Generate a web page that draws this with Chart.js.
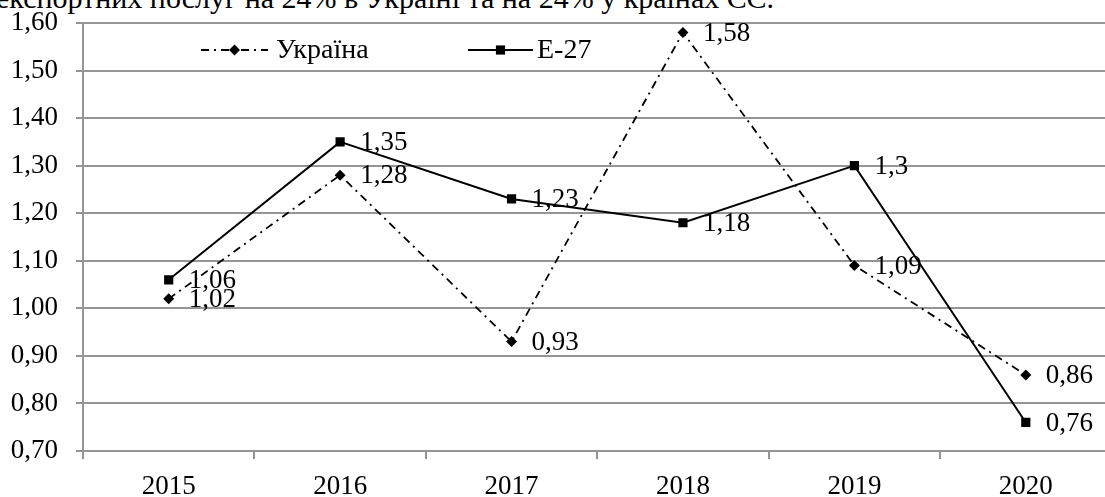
<!DOCTYPE html>
<html lang="uk">
<head>
<meta charset="utf-8">
<title>Україна та Е-27</title>
<script src="https://cdn.jsdelivr.net/npm/chart.js@4/dist/chart.umd.min.js"></script>
<style>
    html, body { margin: 0; padding: 0; background: #fff; overflow: hidden; }
    #wrap { position: relative; width: 1105px; height: 497px; overflow: hidden; }
    #topText {
        position: absolute; left: -4px; top: -17px;
        font: 30px "Liberation Serif", serif; line-height: 30px;
        white-space: nowrap; color: #000;
    }
    #chart { position: absolute; left: 0; top: 0; }
</style>
</head>
<body>
<div id="wrap">
    <div id="topText">експортних послуг на 24% в Україні та на 24% у країнах ЄС.</div>
    <canvas id="chart" width="1118" height="497"></canvas>
</div>
<script>
// Chart data
const years = ['2015', '2016', '2017', '2018', '2019', '2020'];
const ukraine = [1.02, 1.28, 0.93, 1.58, 1.09, 0.86];
const eu27 = [1.06, 1.35, 1.23, 1.18, 1.30, 0.76];
const ukraineLabels = ['1,02', '1,28', '0,93', '1,58', '1,09', '0,86'];
const eu27Labels = ['1,06', '1,35', '1,23', '1,18', '1,3', '0,76'];
const yTickLabels = ['0,70', '0,80', '0,90', '1,00', '1,10', '1,20', '1,30', '1,40', '1,50', '1,60'];

const FONT = '"Liberation Serif", serif';
const GRID = '#959595';

// value labels to the right of each point
const pointLabels = {
    id: 'pointLabels',
    afterDatasetsDraw(chart) {
        const ctx = chart.ctx;
        ctx.save();
        ctx.font = '27px ' + FONT;
        ctx.fillStyle = '#000';
        ctx.textAlign = 'left';
        ctx.textBaseline = 'middle';
        chart.data.datasets.forEach((ds, i) => {
            chart.getDatasetMeta(i).data.forEach((pt, j) => {
                ctx.fillText(ds.valueLabels[j], pt.x + 20, pt.y + 1);
            });
        });
        ctx.restore();
    }
};

// legend drawn inside the plot area, like the original
const innerLegend = {
    id: 'innerLegend',
    afterDraw(chart) {
        const ctx = chart.ctx;
        const slots = [
            { x0: 201, x1: 268, tx: 276 },
            { x0: 468, x1: 533, tx: 537 }
        ];
        const y = 50;
        ctx.save();
        chart.data.datasets.forEach((ds, i) => {
            const s = slots[i];
            ctx.strokeStyle = '#000';
            ctx.lineWidth = ds.borderWidth;
            ctx.setLineDash(ds.borderDash || []);
            ctx.beginPath();
            ctx.moveTo(s.x0, y);
            ctx.lineTo(s.x1, y);
            ctx.stroke();
            ctx.setLineDash([]);
            ctx.fillStyle = '#000';
            Chart.helpers.drawPoint(ctx, {
                pointStyle: ds.pointStyle,
                radius: ds.pointRadius,
                borderWidth: 0
            }, (s.x0 + s.x1) / 2, y);
            ctx.fillStyle = '#000';
            ctx.font = '28px ' + FONT;
            ctx.textAlign = 'left';
            ctx.textBaseline = 'middle';
            ctx.fillText(ds.label, s.tx, y + 1);
        });
        ctx.restore();
    }
};

new Chart(document.getElementById('chart'), {
    type: 'line',
    data: {
        labels: years,
        datasets: [
            {
                label: 'Україна',
                data: ukraine,
                valueLabels: ukraineLabels,
                borderColor: '#000',
                backgroundColor: '#000',
                borderWidth: 1.8,
                borderDash: [8, 5, 2, 5],
                pointStyle: 'rectRot',
                pointRadius: 5.5,
                pointBorderWidth: 0,
                tension: 0
            },
            {
                label: 'E-27',
                data: eu27,
                valueLabels: eu27Labels,
                borderColor: '#000',
                backgroundColor: '#000',
                borderWidth: 2,
                pointStyle: 'rect',
                pointRadius: 6.5,
                pointBorderWidth: 0,
                tension: 0
            }
        ]
    },
    options: {
        responsive: false,
        animation: false,
        layout: { padding: { top: 23, left: 0, right: 0, bottom: 0 } },
        plugins: {
            legend: { display: false },
            tooltip: { enabled: false }
        },
        scales: {
            x: {
                offset: true,
                afterFit: (scale) => {
                    scale.height = 46;
                    scale.paddingLeft = 0;
                    scale.paddingRight = 0;
                },
                grid: {
                    offset: true,
                    drawOnChartArea: false,
                    color: GRID,
                    lineWidth: 2,
                    tickLength: 8
                },
                border: { display: true, color: GRID, width: 2 },
                ticks: {
                    color: '#000',
                    padding: 12,
                    font: { family: FONT, size: 27 }
                }
            },
            y: {
                min: 0.7,
                max: 1.6,
                afterFit: (scale) => {
                    scale.width = 83;
                    scale.paddingTop = 0;
                    scale.paddingBottom = 0;
                },
                grid: {
                    color: GRID,
                    lineWidth: 2,
                    tickLength: 7
                },
                border: { display: true, color: GRID, width: 2 },
                ticks: {
                    stepSize: 0.1,
                    color: '#000',
                    padding: 18,
                    font: { family: FONT, size: 27 },
                    callback: (value, index) => yTickLabels[index]
                }
            }
        }
    },
    plugins: [pointLabels, innerLegend]
});
</script>
</body>
</html>
